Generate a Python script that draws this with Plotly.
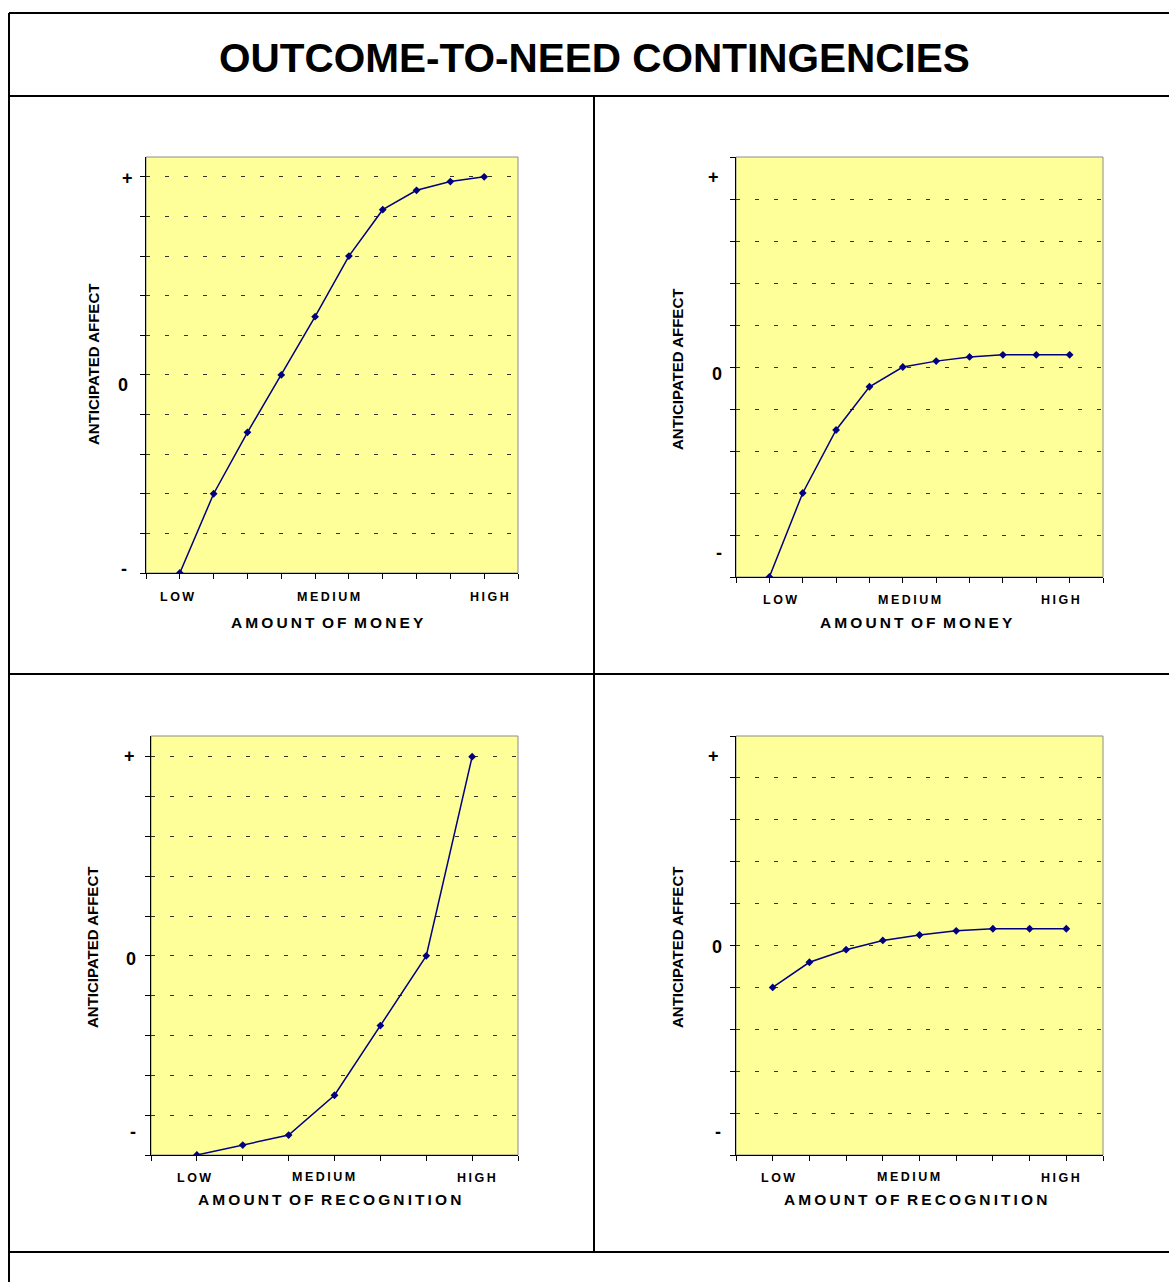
import plotly.graph_objects as go

# ---- data -------------------------------------------------------------
title_text = "OUTCOME-TO-NEED CONTINGENCIES"
y_title = "ANTICIPATED AFFECT"
affect_marks = ["+", "0", "-"]
level_labels = ["LOW", "MEDIUM", "HIGH"]
x_titles = ["AMOUNT OF MONEY", "AMOUNT OF MONEY",
            "AMOUNT OF RECOGNITION", "AMOUNT OF RECOGNITION"]

money_steps = [1, 2, 3, 4, 5, 6, 7, 8, 9, 10]
money_affect_a = [-5, -3, -1.45, 0, 1.47, 3, 4.17, 4.66, 4.88, 5]
money_affect_b = [-5, -3, -1.5, -0.47, 0, 0.14, 0.24, 0.29, 0.29, 0.29]

recog_steps_a = [1, 2, 3, 4, 5, 6, 7]
recog_affect_a = [-5, -4.75, -4.5, -3.5, -1.75, 0, 5]
recog_steps_b = [1, 2, 3, 4, 5, 6, 7, 8, 9]
recog_affect_b = [-1.0, -0.4, -0.1, 0.12, 0.25, 0.35, 0.4, 0.4, 0.4]

series = [
    (money_steps, money_affect_a),
    (money_steps, money_affect_b),
    (recog_steps_a, recog_affect_a),
    (recog_steps_b, recog_affect_b),
]

# ---- page geometry (pixels) -------------------------------------------
W, H = 1169, 1282


def px(x):
    return x / W


def py(y):
    return 1 - y / H


def spaced(text, gap="\u2009"):
    words = text.split(" ")
    return ("\u00a0" + gap).join(gap.join(w) for w in words)


FONT = "Liberation Sans, Arial, sans-serif"
NAVY = "#000080"

# each panel: plot box (left, right, top, bottom), x range, y range,
# positions of the +/0/- marks, level labels and titles
panels = [
    dict(box=(146, 518, 157, 573), xr=[0, 11], yr=[-5, 5.5],
         marks=[(127, 178), (123, 385), (124, 569)],
         levels=[(177, 597), (328, 597), (489, 597)],
         xt=(327, 622), yt=(93, 365)),
    dict(box=(736, 1103, 157, 577), xr=[0, 11], yr=[-5, 5],
         marks=[(713, 177), (717, 374), (719, 553)],
         levels=[(780, 600), (909, 600), (1060, 600)],
         xt=(916, 622), yt=(677, 370)),
    dict(box=(151, 518, 736, 1155), xr=[0, 8], yr=[-5, 5.52],
         marks=[(129, 756), (131, 959), (133, 1132)],
         levels=[(194, 1178), (323, 1177), (476, 1178)],
         xt=(330, 1199), yt=(92, 948)),
    dict(box=(736, 1103, 736, 1155), xr=[0, 10], yr=[-5, 5],
         marks=[(713, 756), (717, 947), (718, 1132)],
         levels=[(778, 1178), (908, 1177), (1060, 1178)],
         xt=(915, 1199), yt=(677, 948)),
]

fig = go.Figure()
layout = dict(
    width=W, height=H,
    margin=dict(l=0, r=0, t=0, b=0),
    paper_bgcolor="white",
    plot_bgcolor="#FFFF99",
    showlegend=False,
    font=dict(family=FONT, color="black"),
)
annotations = []
shapes = []

for i, (p, (xs, ys)) in enumerate(zip(panels, series), start=1):
    sfx = "" if i == 1 else str(i)
    l, r, t, b = p["box"]
    layout["xaxis" + sfx] = dict(
        domain=[px(l), px(r)], range=p["xr"], anchor="y" + sfx,
        tickmode="linear", tick0=0, dtick=1, ticks="outside", ticklen=5,
        tickcolor="black", showticklabels=False, showgrid=False,
        zeroline=False, showline=True, linecolor="black", linewidth=1,
        fixedrange=True,
    )
    layout["yaxis" + sfx] = dict(
        domain=[py(b), py(t)], range=p["yr"], anchor="x" + sfx,
        tickmode="linear", tick0=-5, dtick=1, ticks="outside", ticklen=5,
        tickcolor="black", showticklabels=False, showgrid=True,
        gridcolor="#33332a", griddash="4px,15px", gridwidth=1,
        zeroline=False, showline=True, linecolor="black", linewidth=1,
        fixedrange=True,
    )
    fig.add_trace(go.Scatter(
        x=xs, y=ys, mode="lines+markers",
        line=dict(color=NAVY, width=1.5),
        marker=dict(symbol="diamond", size=6, color=NAVY),
        xaxis="x" + sfx, yaxis="y" + sfx, hoverinfo="skip",
    ))
    # grey frame round the plot area
    shapes.append(dict(type="rect", xref="x%s domain" % sfx,
                       yref="y%s domain" % sfx, x0=0, x1=1, y0=0, y1=1,
                       line=dict(color="#8c8c8c", width=1), layer="below"))
    for mark, (mx, my) in zip(affect_marks, p["marks"]):
        annotations.append(dict(x=px(mx), y=py(my), xref="paper", yref="paper",
                                text="<b>%s</b>" % mark, showarrow=False,
                                font=dict(size=18, family=FONT),
                                xanchor="center", yanchor="middle"))
    for lab, (lx, ly) in zip(level_labels, p["levels"]):
        annotations.append(dict(x=px(lx), y=py(ly), xref="paper", yref="paper",
                                text="<b>%s</b>" % spaced(lab), showarrow=False,
                                font=dict(size=12.5, family=FONT),
                                xanchor="center", yanchor="middle"))
    annotations.append(dict(x=px(p["xt"][0]), y=py(p["xt"][1]),
                            xref="paper", yref="paper",
                            text="<b>%s</b>" % spaced(x_titles[i - 1]),
                            showarrow=False, font=dict(size=15.5, family=FONT),
                            xanchor="center", yanchor="middle"))
    annotations.append(dict(x=px(p["yt"][0]), y=py(p["yt"][1]),
                            xref="paper", yref="paper",
                            text="<b>%s</b>" % y_title, textangle=-90,
                            showarrow=False, font=dict(size=15, family=FONT),
                            xanchor="center", yanchor="middle"))

annotations.append(dict(x=px(594), y=py(58), xref="paper", yref="paper",
                        text="<b>%s</b>" % title_text, showarrow=False,
                        font=dict(size=40.5, family=FONT),
                        xanchor="center", yanchor="middle"))

# page frame
frame = dict(color="black", width=2)
for (x0, y0, x1, y1) in [(9, 13, 9, H), (9, 13, W, 13), (9, 96, W, 96),
                         (9, 674, W, 674), (9, 1252, W, 1252),
                         (594, 96, 594, 1252)]:
    shapes.append(dict(type="line", xref="paper", yref="paper",
                       x0=px(x0), y0=py(y0), x1=px(x1), y1=py(y1),
                       line=frame))

layout["annotations"] = annotations
layout["shapes"] = shapes
fig.update_layout(**layout)
fig.write_html("out.html")
